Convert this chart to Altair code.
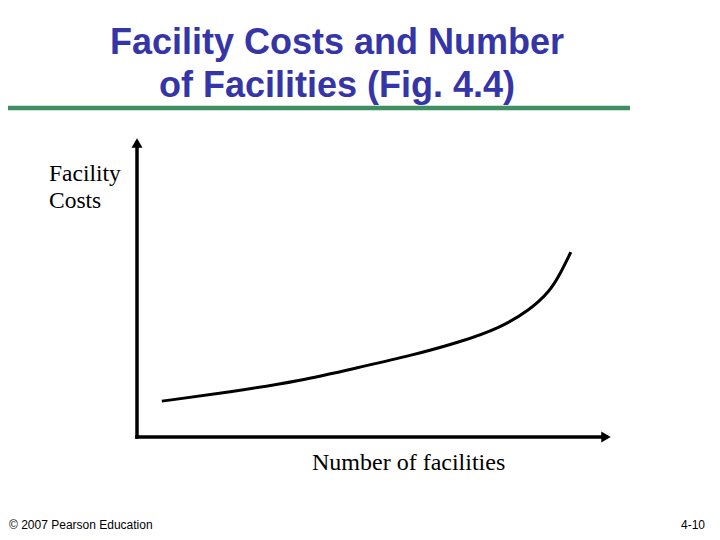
import altair as alt
import pandas as pd

# text
title_text = "Facility Costs and Number\nof Facilities (Fig. 4.4)"
y_label = "Facility\nCosts"
x_label = "Number of facilities"
footer_left = "© 2007 Pearson Education"
footer_right = "4-10"

# curve (axis units 0-100)
facilities = [5.3, 19.8, 34.8, 47.6, 58.2, 68.9, 77.4, 83.8, 88.1, 90.2, 92.5]
costs = [12.2, 15.3, 19.1, 23.8, 27.6, 32.3, 37.1, 43.2, 49.7, 55.4, 62.9]

axis_max = 100

W, H = 704, 524
x_scale = alt.Scale(domain=[0, axis_max], range=[129, 598])
y_scale = alt.Scale(domain=[0, axis_max], range=[429, 135])

curve_df = pd.DataFrame({"n": facilities, "cost": costs})
axes_df = pd.DataFrame({"x": [0, 0], "y": [0, 0], "x2": [axis_max, 0], "y2": [0, axis_max]})
heads_df = pd.DataFrame({"x": [axis_max, 0], "y": [0, axis_max], "shape": ["triangle-right", "triangle-up"]})

curve = alt.Chart(curve_df).mark_line(color="black", strokeWidth=3, interpolate="basis").encode(
    x=alt.X("n:Q", scale=x_scale, axis=None),
    y=alt.Y("cost:Q", scale=y_scale, axis=None),
)

# axis lines with arrow heads
axes = alt.Chart(axes_df).mark_rule(color="black", strokeWidth=3.5, strokeCap="square").encode(
    x=alt.X("x:Q", scale=x_scale, axis=None),
    y=alt.Y("y:Q", scale=y_scale, axis=None),
    x2="x2:Q",
    y2="y2:Q",
)

heads = alt.Chart(heads_df).mark_point(filled=True, color="black", opacity=1, size=121).encode(
    x=alt.X("x:Q", scale=x_scale, axis=None),
    y=alt.Y("y:Q", scale=y_scale, axis=None),
    shape=alt.Shape("shape:N", scale=None),
)


def label(text, x, y, **kw):
    return alt.Chart(pd.DataFrame({"t": [text]})).mark_text(lineBreak="\n", **kw).encode(
        text="t:N", x=alt.value(x), y=alt.value(y)
    )


title = label(title_text, 329, 46, font="Liberation Sans", fontSize=36, fontWeight="bold",
              color="#3535A8", align="center", baseline="alphabetic", lineHeight=43)
rule = alt.Chart(pd.DataFrame({"a": [0]})).mark_rule(color="#3F8F63", strokeWidth=4.5).encode(
    x=alt.value(0), x2=alt.value(622), y=alt.value(100)
)
ylab = label(y_label, 41, 173, font="Liberation Serif", fontSize=23.5, color="black",
             align="left", baseline="alphabetic", lineHeight=27)
xlab = label(x_label, 304, 462, font="Liberation Serif", fontSize=24, color="black",
             align="left", baseline="alphabetic")
foot_l = label(footer_left, 1, 521, font="Liberation Sans", fontSize=12, color="black",
               align="left", baseline="alphabetic")
foot_r = label(footer_right, 697, 521, font="Liberation Sans", fontSize=12, color="black",
               align="right", baseline="alphabetic")

chart = (
    alt.layer(axes, heads, curve, title, rule, ylab, xlab, foot_l, foot_r)
    .properties(width=W, height=H, padding=0, autosize=alt.AutoSizeParams(type="none"), background="white")
    .configure_view(stroke=None)
)

chart.save("out.html", embed_options={"renderer": "svg", "actions": False})
